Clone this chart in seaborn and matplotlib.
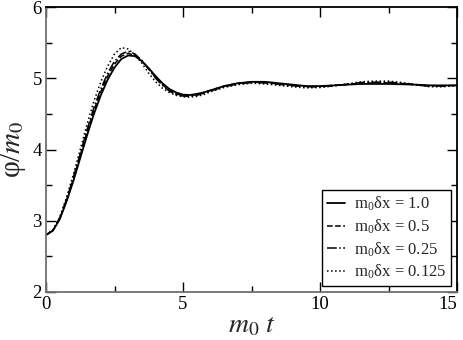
import matplotlib
matplotlib.use("Agg")
import matplotlib.pyplot as plt
import seaborn as sns
import pandas as pd
from matplotlib.ticker import MultipleLocator, FixedLocator

t = [0, 0.25, 0.5, 0.75, 1, 1.25, 1.5, 1.75, 2, 2.25, 2.5, 2.75, 3, 3.25, 3.5, 3.75,
     4, 4.25, 4.5, 4.75, 5, 5.25, 5.5, 5.75, 6, 6.5, 7, 7.5, 8, 8.5, 9, 9.5, 10,
     10.5, 11, 11.5, 12, 12.5, 13, 13.5, 14, 14.5, 15]

phi_1_0 = [2.80, 2.86, 3.02, 3.27, 3.56, 3.88, 4.20, 4.50, 4.76, 4.98, 5.15, 5.27, 5.32, 5.31,
           5.24, 5.14, 5.03, 4.93, 4.85, 4.80, 4.77, 4.765, 4.78, 4.80, 4.83, 4.89, 4.93, 4.95,
           4.95, 4.93, 4.91, 4.89, 4.89, 4.90, 4.91, 4.92, 4.92, 4.92, 4.915, 4.91, 4.90, 4.90, 4.90]
phi_0_5 = [2.80, 2.86, 3.03, 3.29, 3.59, 3.92, 4.25, 4.55, 4.81, 5.03, 5.20, 5.31, 5.35, 5.32,
           5.24, 5.13, 5.01, 4.91, 4.83, 4.78, 4.76, 4.755, 4.77, 4.80, 4.83, 4.89, 4.93, 4.945,
           4.94, 4.92, 4.90, 4.885, 4.885, 4.90, 4.915, 4.93, 4.935, 4.935, 4.925, 4.91, 4.895, 4.895, 4.90]
phi_0_25 = [2.80, 2.865, 3.04, 3.30, 3.61, 3.94, 4.28, 4.59, 4.85, 5.07, 5.24, 5.34, 5.38, 5.34,
            5.25, 5.13, 5.00, 4.90, 4.82, 4.77, 4.75, 4.745, 4.76, 4.79, 4.82, 4.88, 4.92, 4.94,
            4.935, 4.915, 4.895, 4.88, 4.88, 4.895, 4.915, 4.94, 4.945, 4.945, 4.93, 4.905, 4.89, 4.89, 4.90]
phi_0_125 = [2.80, 2.87, 3.05, 3.33, 3.65, 4.00, 4.36, 4.68, 4.95, 5.17, 5.34, 5.43, 5.41, 5.33,
             5.21, 5.07, 4.95, 4.86, 4.80, 4.76, 4.74, 4.735, 4.745, 4.77, 4.81, 4.87, 4.91, 4.93,
             4.92, 4.90, 4.88, 4.865, 4.87, 4.89, 4.92, 4.95, 4.96, 4.96, 4.94, 4.91, 4.88, 4.88, 4.90]

labels = ["m$_\\mathregular{0}$δx = 1.0", "m$_\\mathregular{0}$δx = 0.5",
          "m$_\\mathregular{0}$δx = 0.25", "m$_\\mathregular{0}$δx = 0.125"]
series = [phi_1_0, phi_0_5, phi_0_25, phi_0_125]
styles = ["-", "--", "-.", ":"]
widths = [1.3, 1.1, 1.1, 1.1]
xticks = [0, 5, 10, 15]
xticklabels = ["0", "5", "10", "15"]

sns.set_theme(style="ticks")
plt.rcParams["font.family"] = ["Liberation Serif", "DejaVu Serif"]
plt.rcParams["mathtext.fontset"] = "stix"

fig = plt.figure(figsize=(4.63, 3.40), dpi=100)
ax = fig.add_axes([46 / 463, 1 - 292 / 340, 411 / 463, 285 / 340])

for vals, lab, ls, lw in zip(series, labels, styles, widths):
    df = pd.DataFrame({"t": t, "phi": vals})
    sns.lineplot(data=df, x="t", y="phi", ax=ax, color="black", linestyle=ls,
                 linewidth=lw, label=lab)

ax.set_xlim(0, 15)
ax.set_ylim(2, 6)
ax.xaxis.set_major_locator(FixedLocator(xticks))
ax.set_xticklabels(xticklabels)
ax.xaxis.set_minor_locator(MultipleLocator(2.5))
ax.yaxis.set_major_locator(MultipleLocator(1))
ax.yaxis.set_minor_locator(MultipleLocator(0.5))
ax.tick_params(which="both", direction="in", top=True, right=True, colors="black",
               labelsize=13.5, width=1)
ax.tick_params(which="major", length=7)
ax.tick_params(which="minor", length=4)
ax.tick_params(axis="x", pad=3)
ax.tick_params(axis="y", pad=3)
for name, s in ax.spines.items():
    s.set_color("#707070" if name in ("left", "bottom") else "black")
    s.set_linewidth(1.3)

ax.get_xticklabels()[-1].set_horizontalalignment("right")
ax.get_xticklabels()[-1].set_x(15.2)

ax.set_xlabel(r"$m_0\ t$", fontsize=20, labelpad=0)
ax.set_ylabel("φ/" + r"$m_0$", fontsize=21, labelpad=3)

leg = ax.legend(loc="lower right", fontsize=12, frameon=True, fancybox=False,
                edgecolor="black", framealpha=1, handlelength=1.1, handletextpad=0.5,
                borderaxespad=0.35, borderpad=0.3, labelspacing=0.25)
leg.get_frame().set_linewidth(1.0)

fig.savefig("out.png", dpi=100)
